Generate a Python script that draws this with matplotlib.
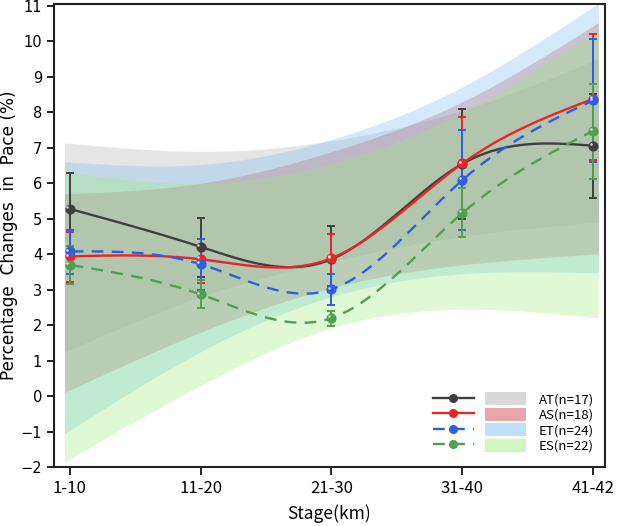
import numpy as np
import matplotlib
matplotlib.use("Agg")
import matplotlib.pyplot as plt
from matplotlib.patches import Patch
from matplotlib.lines import Line2D
from matplotlib.legend_handler import HandlerTuple

# 数据
stages = ["1-10", "11-20", "21-30", "31-40", "41-42"]
groups = ["AT", "AS", "ET", "ES"]
labels = ["AT(n=17)", "AS(n=18)", "ET(n=24)", "ES(n=22)"]

mean_at = [5.28, 4.21, 3.86, 6.55, 7.06]
mean_as = [3.94, 3.86, 3.89, 6.56, 8.38]
mean_et = [4.08, 3.72, 3.01, 6.09, 8.34]
mean_es = [3.70, 2.87, 2.20, 5.16, 7.48]

# 误差线上下端
low_at = [4.22, 3.36, 2.95, 5.00, 5.58]
high_at = [6.30, 5.03, 4.79, 8.09, 8.52]
low_as = [3.23, 3.20, 3.11, 5.14, 6.66]
high_as = [4.64, 4.43, 4.57, 7.87, 10.20]
low_et = [3.43, 2.99, 2.58, 4.68, 6.60]
high_et = [4.69, 4.42, 3.43, 7.49, 10.06]
low_es = [3.15, 2.49, 1.98, 4.50, 6.13]
high_es = [4.24, 3.27, 2.40, 5.88, 8.80]

# 置信带
band_up_at = [7.13, 6.90, 7.20, 8.06, 9.45]
band_lo_at = [1.30, 2.80, 3.80, 4.50, 4.90]
band_up_as = [5.71, 6.00, 6.89, 8.30, 10.44]
band_lo_as = [0.17, 1.80, 3.05, 3.70, 4.00]
band_up_et = [6.60, 6.53, 7.24, 8.72, 10.98]
band_lo_et = [-0.97, 1.25, 2.80, 3.45, 3.48]
band_up_es = [6.30, 6.00, 6.57, 8.00, 10.25]
band_lo_es = [-1.77, 0.30, 1.92, 2.45, 2.22]

means = [mean_at, mean_as, mean_et, mean_es]
lows = [low_at, low_as, low_et, low_es]
highs = [high_at, high_as, high_et, high_es]
ups = [band_up_at, band_up_as, band_up_et, band_up_es]
los = [band_lo_at, band_lo_as, band_lo_et, band_lo_es]

line_colors = ["#3f3f3f", "#e8262a", "#2f5ee0", "#4fa050"]
band_colors = ["#acacac", "#d23c48", "#73bcf2", "#98ee73"]
styles = ["-", "-", (0, (5, 3.5)), (0, (5, 3.5))]

cjk = ["Noto Sans CJK SC", "DejaVu Sans"]


def natural_spline(x, y, xs):
    x = np.asarray(x, float)
    y = np.asarray(y, float)
    n = len(x)
    h = np.diff(x)
    A = np.zeros((n, n))
    r = np.zeros(n)
    A[0, 0] = 1
    A[-1, -1] = 1
    for i in range(1, n - 1):
        A[i, i - 1] = h[i - 1]
        A[i, i] = 2 * (h[i - 1] + h[i])
        A[i, i + 1] = h[i]
        r[i] = 6 * ((y[i + 1] - y[i]) / h[i] - (y[i] - y[i - 1]) / h[i - 1])
    M = np.linalg.solve(A, r)
    idx = np.clip(np.searchsorted(x, xs) - 1, 0, n - 2)
    x0, x1 = x[idx], x[idx + 1]
    hh = x1 - x0
    t0 = x1 - xs
    t1 = xs - x0
    return (M[idx] * t0 ** 3 / (6 * hh) + M[idx + 1] * t1 ** 3 / (6 * hh)
            + (y[idx] / hh - M[idx] * hh / 6) * t0
            + (y[idx + 1] / hh - M[idx + 1] * hh / 6) * t1)


xpos = np.arange(len(stages))
xs = np.linspace(-0.04, 4.04, 300)

fig = plt.figure(figsize=(6.17, 5.26), dpi=100)
ax = fig.add_axes([0.0875, 0.112, 0.893, 0.88])

for up, lo, c in zip(ups, los, band_colors):
    ax.fill_between(xs, natural_spline(xpos, lo, xs), natural_spline(xpos, up, xs),
                    color=c, alpha=0.3, linewidth=0, zorder=1)

for m, lo, hi, c, ls in zip(means, lows, highs, line_colors, styles):
    m = np.array(m)
    yerr = [m - np.array(lo), np.array(hi) - m]
    ax.errorbar(xpos, m, yerr=yerr, fmt="none", ecolor=c, elinewidth=1.4,
                capsize=3.0, capthick=1.4, zorder=3)
    ax.plot(xs[4:-4], natural_spline(xpos, m, xs[4:-4]), color=c, linestyle=ls,
            linewidth=1.7, zorder=4)
    ax.plot(xpos, m, "o", color=c, markersize=6.3, markeredgecolor=c, zorder=5)
    ax.plot(xpos - 0.02, m + 0.05, "o", color="white", markersize=1.8,
            markeredgewidth=0, alpha=0.8, zorder=6)

ax.set_xlim(-0.12, 4.09)
ax.set_ylim(-2, 11.05)
ax.set_yticks(range(-2, 12))
ax.set_xticks(xpos)
ax.set_xticklabels(stages, family=cjk, fontsize=12)
for t in ax.get_yticklabels():
    t.set_family("DejaVu Sans")
    t.set_fontsize(10.5)
ax.tick_params(axis="both", direction="out", length=5, width=1.4, color="#222222")
ax.tick_params(axis="x", length=6)
for s in ax.spines.values():
    s.set_linewidth(1.5)
    s.set_color("#222222")

ax.set_xlabel("Stage(km)", family=cjk, fontsize=12.5, labelpad=5)
ax.set_ylabel("Percentage  Changes  in  Pace (%)", family="DejaVu Sans", fontsize=12.2)
ax.yaxis.set_label_coords(-0.066, 0.5)

handles = []
for c, bc, ls in zip(line_colors, band_colors, styles):
    ln = Line2D([], [], color=c, linestyle=ls, linewidth=1.7, marker="o",
                markersize=5.5)
    pt = Patch(facecolor=bc, alpha=0.46, edgecolor="none")
    handles.append((ln, pt))

ax.legend(handles, labels, loc="lower right", bbox_to_anchor=(0.985, 0.025),
          borderaxespad=0, borderpad=0.2,
          handler_map={tuple: HandlerTuple(ndivide=None, pad=0.9)},
          handlelength=7.0, handleheight=1.15, labelspacing=0.12, handletextpad=1.0,
          frameon=False, prop={"family": cjk, "size": 9.5})

fig.savefig("out.png", dpi=100)
